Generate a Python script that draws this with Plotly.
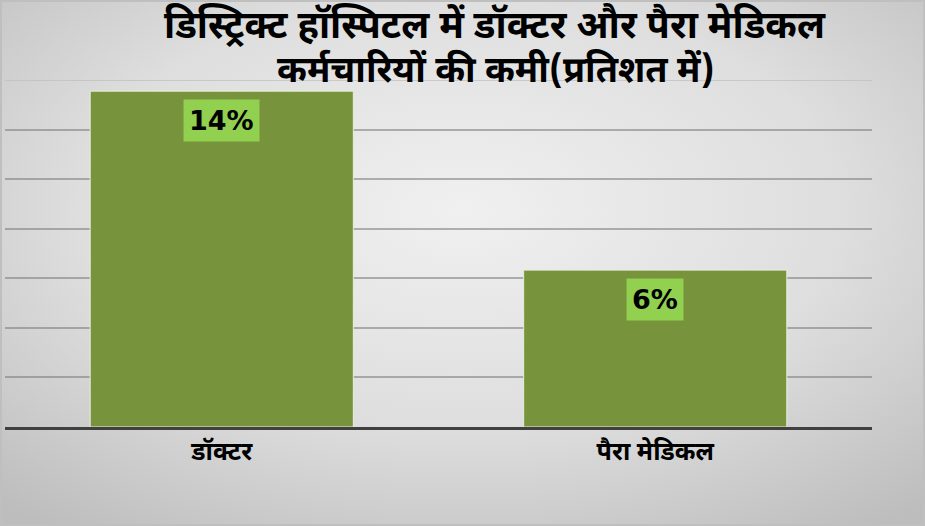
import base64
import plotly.graph_objects as go

categories = ["डॉक्टर", "पैरा मेडिकल"]
values = [13.55, 6.33]
labels = ["14%", "6%"]
title_lines = ["डिस्ट्रिक्ट हॉस्पिटल में डॉक्टर और पैरा मेडिकल",
               "कर्मचारियों की कमी(प्रतिशत में)"]

W, H = 925, 526
ML, MR, MT, MB = 5, 53, 80, 99
PW, PH = W - ML - MR, H - MT - MB

svg = f"""<svg xmlns='http://www.w3.org/2000/svg' width='{W}' height='{H}'>
<defs><radialGradient id='g' cx='50%' cy='40%' r='75%'>
<stop offset='0%' stop-color='#f0f0f0'/><stop offset='55%' stop-color='#dedede'/><stop offset='100%' stop-color='#bdbdbd'/>
</radialGradient></defs>
<rect width='{W}' height='{H}' fill='url(#g)'/>
<rect x='1' y='1' width='{W-2}' height='{H-2}' fill='none' stroke='#bfbfbf' stroke-width='2'/>
</svg>"""
src = "data:image/svg+xml;base64," + base64.b64encode(svg.encode()).decode()

font_hi = "Noto Sans Devanagari, Noto Sans, sans-serif"

fig = go.Figure()
fig.add_trace(go.Bar(
    x=categories, y=values,
    marker=dict(color="#77933C", line=dict(color="#e8eedc", width=1)),
    width=0.607, hoverinfo="skip",
))

for c, v, t in zip(categories, values, labels):
    fig.add_annotation(
        x=c, y=v, text=f"<b>{t}</b>", showarrow=False,
        yanchor="top", yshift=-8,
        font=dict(family="DejaVu Sans", size=27, color="#000000"),
        bgcolor="#92D050", borderpad=5,
    )

# title lines as annotations (pixel centers 28 and 73 from top)
for line, ypx, fs in zip(title_lines, [28, 73], [38, 36]):
    fig.add_annotation(
        xref="paper", yref="paper",
        x=(495 - ML) / PW, y=1 + (MT - ypx) / PH,
        xanchor="center", yanchor="middle", showarrow=False,
        text=f"<b>{line}</b>",
        font=dict(family=font_hi, size=fs, color="#000000"),
    )

# faint top gridline at the axis maximum
fig.add_shape(type="line", xref="paper", yref="y", x0=0, x1=1, y0=14, y1=14,
              line=dict(color="rgba(190,190,190,0.7)", width=2), layer="below")

fig.add_layout_image(dict(
    source=src, xref="paper", yref="paper",
    x=-ML / PW, y=1 + MT / PH, sizex=W / PW, sizey=H / PH,
    sizing="stretch", xanchor="left", yanchor="top", layer="below",
))

fig.update_layout(
    width=W, height=H,
    margin=dict(l=ML, r=MR, t=MT, b=MB),
    paper_bgcolor="#dcdcdc", plot_bgcolor="rgba(0,0,0,0)",
    showlegend=False,
    bargap=0.393,
    xaxis=dict(showline=True, linecolor="#404040", linewidth=3,
               tickfont=dict(family=font_hi, size=25, color="#000000"),
               tickprefix="<b>", ticksuffix="</b>",
               ticks="", showgrid=False, fixedrange=True),
    yaxis=dict(range=[0, 14], dtick=2, showticklabels=False,
               showgrid=True, gridcolor="rgba(120,120,120,0.55)", gridwidth=2,
               zeroline=False, showline=False, ticks="", fixedrange=True),
)

fig.write_html("out.html", config={"displayModeBar": False},
               post_script="document.body.style.margin='0';")
